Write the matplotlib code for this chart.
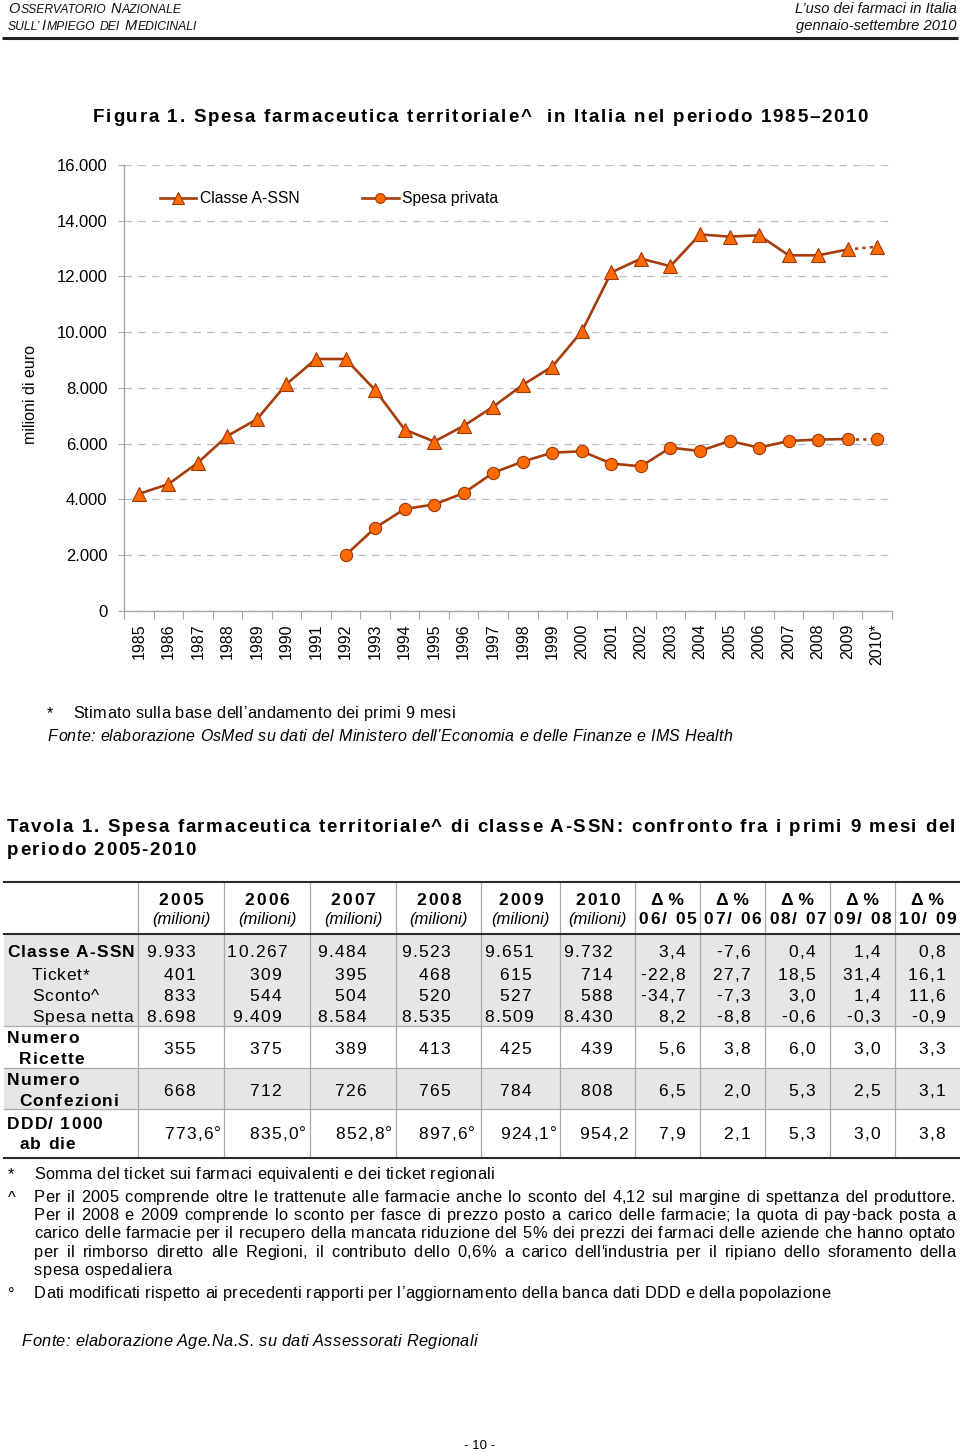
import numpy as np
import matplotlib
matplotlib.use("Agg")
import matplotlib.pyplot as plt
from matplotlib.lines import Line2D
from matplotlib.patches import Rectangle
from matplotlib.font_manager import FontProperties
from matplotlib.ticker import FixedLocator, FuncFormatter

plt.rcParams['font.family'] = ['Liberation Sans', 'DejaVu Sans']

# ---------------- data: figure ----------------
years = ['1985', '1986', '1987', '1988', '1989', '1990', '1991', '1992', '1993',
         '1994', '1995', '1996', '1997', '1998', '1999', '2000', '2001', '2002',
         '2003', '2004', '2005', '2006', '2007', '2008', '2009', '2010*']
classe_a_ssn = [4200, 4550, 5320, 6280, 6880, 8140, 9040, 9040, 7930, 6510, 6080,
                6640, 7330, 8110, 8770, 10030, 12150, 12640, 12370, 13510, 13430,
                13480, 12760, 12760, 12970, 13070]
nan = np.nan
spesa_privata = [nan, nan, nan, nan, nan, nan, nan, 2000, 2980, 3660, 3820, 4230,
                 4960, 5360, 5680, 5730, 5290, 5190, 5860, 5740, 6100, 5860, 6100,
                 6150, 6170, 6170]
series_names = ['Classe A-SSN', 'Spesa privata']
y_ticks = [0, 2000, 4000, 6000, 8000, 10000, 12000, 14000, 16000]

# ---------------- data: table ----------------
table_years = ['2005', '2006', '2007', '2008', '2009', '2010']
delta_periods = ['06/ 05', '07/ 06', '08/ 07', '09/ 08', '10/ 09']
classe_ssn_9m = [9933, 10267, 9484, 9523, 9651, 9732]
ticket_9m = [401, 309, 395, 468, 615, 714]
sconto_9m = [833, 544, 504, 520, 527, 588]
spesa_netta_9m = [8698, 9409, 8584, 8535, 8509, 8430]
ricette_9m = [355, 375, 389, 413, 425, 439]
confezioni_9m = [668, 712, 726, 765, 784, 808]
ddd_1000_ab_die = [773.6, 835.0, 852.8, 897.6, 924.1, 954.2]
ddd_revised = [True, True, True, True, True, False]
delta_classe = [3.4, -7.6, 0.4, 1.4, 0.8]
delta_ticket = [-22.8, 27.7, 18.5, 31.4, 16.1]
delta_sconto = [-34.7, -7.3, 3.0, 1.4, 11.6]
delta_netta = [8.2, -8.8, -0.6, -0.3, -0.9]
delta_ricette = [5.6, 3.8, 6.0, 3.0, 3.3]
delta_confezioni = [6.5, 2.0, 5.3, 2.5, 3.1]
delta_ddd = [7.9, 2.1, 5.3, 3.0, 3.8]

# ---------------- figure & helpers ----------------
W, H = 960, 1452
fig = plt.figure(figsize=(W / 100, H / 100), dpi=100)
bg = fig.add_axes([0, 0, 1, 1])
bg.set_xlim(0, W)
bg.set_ylim(H, 0)
bg.axis('off')
renderer = fig.canvas.get_renderer()
FAM = 'Liberation Sans'


def prop_of(size, weight='normal', style='normal'):
    return FontProperties(family=FAM, size=size, weight=weight, style=style)


def tw(s, prop):
    return renderer.get_text_width_height_descent(s, prop, ismath=False)[0]


def ttext(x, y, s, size, weight='normal', style='normal', ha='left', track=0.0,
          color='black', fit=None):
    prop = prop_of(size, weight, style)
    nat = tw(s, prop)
    n = len(s)
    if fit is not None and n > 1:
        track = (fit - nat) / (n - 1)
    total = nat + track * (n - 1)
    if ha == 'center':
        x0 = x - total / 2
    elif ha == 'right':
        x0 = x - total
    else:
        x0 = x
    if track == 0:
        bg.text(x0, y, s, fontproperties=prop, ha='left', va='baseline', color=color)
    else:
        for i, ch in enumerate(s):
            if ch == ' ':
                continue
            off = (tw(s[:i + 1], prop) - tw(ch, prop)) if i > 0 else 0.0
            bg.text(x0 + off + i * track, y, ch, fontproperties=prop, ha='left',
                    va='baseline', color=color)
    return total, track


def justify(x0, x1, y, line, size, track=0.0, style='normal'):
    words = line.split(' ')
    prop = prop_of(size, style=style)
    ws = [tw(w, prop) + track * (len(w) - 1) for w in words]
    gap = (x1 - x0 - sum(ws)) / (len(words) - 1)
    x = x0
    for w, wd in zip(words, ws):
        ttext(x, y, w, size, style=style, track=track)
        x += wd + gap


def smallcaps(x, y, pieces, big, small):
    for txt, is_big in pieces:
        if txt == ' ':
            x += 0.28 * small * 100 / 72
            continue
        sz = big if is_big else small
        w, _ = ttext(x, y, txt, sz, style='italic', color='#111111')
        x += w + 1.0


def fmt_int(v):
    return f"{v:,}".replace(",", ".")


def fmt_dec(v):
    return f"{v:.1f}".replace(".", ",")


# ---------------- page header ----------------
smallcaps(8, 13, [('O', True), ('SSERVATORIO', False), (' ', False), ('N', True),
                  ('AZIONALE', False)], 10.5, 8.7)
smallcaps(8, 30, [('SULL’', False), ('I', True), ('MPIEGO', False), (' ', False),
                  ('DEI', False), (' ', False), ('M', True), ('EDICINALI', False)], 10.5, 8.7)
ttext(957, 13, 'L’uso dei farmaci in Italia', 10.6, style='italic', ha='right', color='#111111')
ttext(957, 30, 'gennaio-settembre 2010', 10.6, style='italic', ha='right', color='#111111')
bg.plot([2, 958], [38, 38], color='#222222', lw=2.2, solid_capstyle='butt')

# ---------------- figure title ----------------
ttext(93, 122, 'Figura 1. Spesa farmaceutica territoriale^  in Italia nel periodo 1985–2010',
      13.5, weight='bold', fit=868 - 93)

# ---------------- chart ----------------
LINE = '#A63D0C'
FACE = '#FF6A00'
EDGE = '#A0380A'
x = np.arange(len(years))
a = np.array(classe_a_ssn, dtype=float)
p = np.array(spesa_privata, dtype=float)

ax = fig.add_axes([124 / W, 1 - 611 / H, (892 - 124) / W, (611 - 165) / H])
ax.set_xlim(-0.5, len(years) - 0.5)
ax.set_ylim(y_ticks[0], y_ticks[-1])

for vals, mk, ms in ((a, '^', 10.5), (p, 'o', 8.8)):
    ax.plot(x[:-1], vals[:-1], color=LINE, lw=1.9, zorder=3)
    ax.plot(x[-2:], vals[-2:], color=LINE, lw=1.9, ls=(0, (1.2, 1.6)), zorder=3)
    ax.plot(x, vals, ls='none', marker=mk, ms=ms, mfc=FACE, mec=EDGE, mew=0.8, zorder=4)

ax.yaxis.set_major_locator(FixedLocator(y_ticks))
ax.yaxis.set_major_formatter(FuncFormatter(lambda v, _: fmt_int(int(v))))
ax.grid(axis='y', color='#b9bcc6', lw=0.9, ls=(0, (6, 5)), zorder=0)
ax.set_axisbelow(True)
ax.tick_params(axis='y', length=4, width=0.8, color='#a6a6a6', labelsize=12, pad=8,
               labelcolor='black')
ax.set_xticks(x)
ax.set_xticklabels(years, rotation=90, fontsize=11.5, va='top')
ax.tick_params(axis='x', which='major', length=0, pad=9)
ax.set_xticks(np.arange(-0.5, len(years)), minor=True)
ax.tick_params(axis='x', which='minor', length=6, width=0.8, color='#a6a6a6')
for side in ('top', 'right'):
    ax.spines[side].set_visible(False)
for side in ('left', 'bottom'):
    ax.spines[side].set_color('#a6a6a6')
    ax.spines[side].set_linewidth(1.0)
ax.set_ylabel('milioni di euro', fontsize=11.5)
ax.yaxis.set_label_coords((38 - 124) / (892 - 124), (611 - 395) / (611 - 165))

handles = [Line2D([], [], color=LINE, lw=1.9, marker='^', ms=8, mfc=FACE, mec=EDGE, mew=0.8),
           Line2D([], [], color=LINE, lw=1.9, marker='o', ms=7, mfc=FACE, mec=EDGE, mew=0.8)]
ax.legend(handles, series_names, loc='center left',
          bbox_to_anchor=((160 - 124) / (892 - 124), (611 - 199) / (611 - 165)),
          ncol=2, frameon=False, fontsize=11.3, handlelength=2.3, handletextpad=0.25,
          columnspacing=4.0, borderpad=0, borderaxespad=0)

# ---------------- chart notes ----------------
ttext(47, 718, '*', 11.5)
ttext(73, 718, 'Stimato sulla base dell’andamento dei primi 9 mesi', 11.7, track=0.3)
ttext(48, 741, 'Fonte: elaborazione OsMed su dati del Ministero dell’Economia e delle Finanze e IMS Health',
      11.5, style='italic', track=0.3)

# ---------------- table title ----------------
_, trk = ttext(7, 832, 'Tavola 1. Spesa farmaceutica territoriale^ di classe A-SSN: confronto fra i primi 9 mesi del',
               13.5, weight='bold', fit=955 - 7)
ttext(7, 855, 'periodo 2005-2010', 13.5, weight='bold', track=trk)

# ---------------- table ----------------
col_edges = [138, 224, 310, 396, 481, 560, 635, 700, 765, 830, 895, 960]
t_top, t_hdr, t_bot = 881.5, 933.5, 1158
group_lines = [1026, 1067.5, 1109]
GREY = '#e6e6e6'
bg.add_patch(Rectangle((4, t_hdr), 956, group_lines[0] - t_hdr, color=GREY, lw=0, zorder=0))
bg.add_patch(Rectangle((4, group_lines[1]), 956, group_lines[2] - group_lines[1], color=GREY,
                       lw=0, zorder=0))
for xe in col_edges[:-1]:
    bg.plot([xe, xe], [t_top, t_bot], color='#a8a8a8', lw=0.9, zorder=1)
for yl in group_lines:
    bg.plot([4, 960], [yl, yl], color='#a8a8a8', lw=0.9, zorder=1)
for yl in (t_top, t_hdr, t_bot):
    bg.plot([4, 960], [yl, yl], color='#2a2a2a', lw=1.5, zorder=2)

# header
TS = 12.5
for i, yr in enumerate(table_years):
    cx = (col_edges[i] + col_edges[i + 1]) / 2
    ttext(cx, 905, yr, TS, weight='bold', ha='center', track=2.0)
    ttext(cx, 924, '(milioni)', 12, style='italic', ha='center')
for j, per in enumerate(delta_periods):
    cx = (col_edges[6 + j] + col_edges[7 + j]) / 2
    ttext(cx, 905, 'Δ %', TS, weight='bold', ha='center')
    ttext(cx, 924, per, TS, weight='bold', ha='center', track=1.8)

# row labels
labels = [('Classe A-SSN', 'bold', 7, 957), ('Ticket*', 'normal', 32, 980),
          ('Sconto^', 'normal', 32, 1001), ('Spesa netta', 'normal', 32, 1022),
          ('Numero', 'bold', 7, 1043), ('Ricette', 'bold', 19, 1064),
          ('Numero', 'bold', 7, 1085), ('Confezioni', 'bold', 19, 1106),
          ('DDD/ 1000', 'bold', 7, 1129), ('ab die', 'bold', 19, 1149)]
for txt, wt, lx, ly in labels:
    ttext(lx, ly, txt, TS, weight=wt, track=1.2 if wt == 'bold' else 0.8)

year_right = [195, 281, 366, 450, 531, 612]
ddd_right = [221, 306, 392, 475, 557, 628]
delta_right = [685, 750, 815, 880, 945]
NT = 1.3


def put_year_value(i, y, s, right):
    prop = prop_of(TS)
    wdt = tw(s, prop) + NT * (len(s) - 1)
    left = max(right - wdt, col_edges[i] + 3)
    ttext(left, y, s, TS, track=NT)


rows = [(classe_ssn_9m, delta_classe, 957), (ticket_9m, delta_ticket, 980),
        (sconto_9m, delta_sconto, 1001), (spesa_netta_9m, delta_netta, 1022),
        (ricette_9m, delta_ricette, 1054), (confezioni_9m, delta_confezioni, 1096)]
for vals, dels, ry in rows:
    for i, v in enumerate(vals):
        put_year_value(i, ry, fmt_int(v), year_right[i])
    for j, d in enumerate(dels):
        ttext(delta_right[j], ry, fmt_dec(d), TS, ha='right', track=NT)
for i, v in enumerate(ddd_1000_ab_die):
    s = fmt_dec(v) + ('°' if ddd_revised[i] else '')
    put_year_value(i, 1139, s, ddd_right[i])
for j, d in enumerate(delta_ddd):
    ttext(delta_right[j], 1139, fmt_dec(d), TS, ha='right', track=NT)

# ---------------- table notes ----------------
FN = 11.8
ttext(8, 1179, '*', FN)
ttext(34, 1179, 'Somma del ticket sui farmaci equivalenti e dei ticket regionali', FN, track=0.3)
ttext(8, 1203, '^', FN)
note_lines = [
    'Per il 2005 comprende oltre le trattenute alle farmacie anche lo sconto del 4,12 sul margine di spettanza del produttore.',
    'Per il 2008 e 2009 comprende lo sconto per fasce di prezzo posto a carico delle farmacie; la quota di pay-back posta a',
    'carico delle farmacie per il recupero della mancata riduzione del 5% dei prezzi dei farmaci delle aziende che hanno optato',
    'per il rimborso diretto alle Regioni, il contributo dello 0,6% a carico dell\'industria per il ripiano dello sforamento della',
]
for k, ln in enumerate(note_lines):
    justify(34, 955, 1202 + k * 18.2, ln, FN, track=0.2)
ttext(34, 1275, 'spesa ospedaliera', FN, track=0.3)
ttext(8, 1300, '°', FN)
ttext(34, 1298, 'Dati modificati rispetto ai precedenti rapporti per l’aggiornamento della banca dati DDD e della popolazione',
      FN, track=0.2)
ttext(22, 1346, 'Fonte: elaborazione Age.Na.S. su dati Assessorati Regionali', FN, style='italic', track=0.3)

ttext(480, 1449, '- 10 -', 9.5, ha='center')

fig.savefig('out.png', dpi=100)
